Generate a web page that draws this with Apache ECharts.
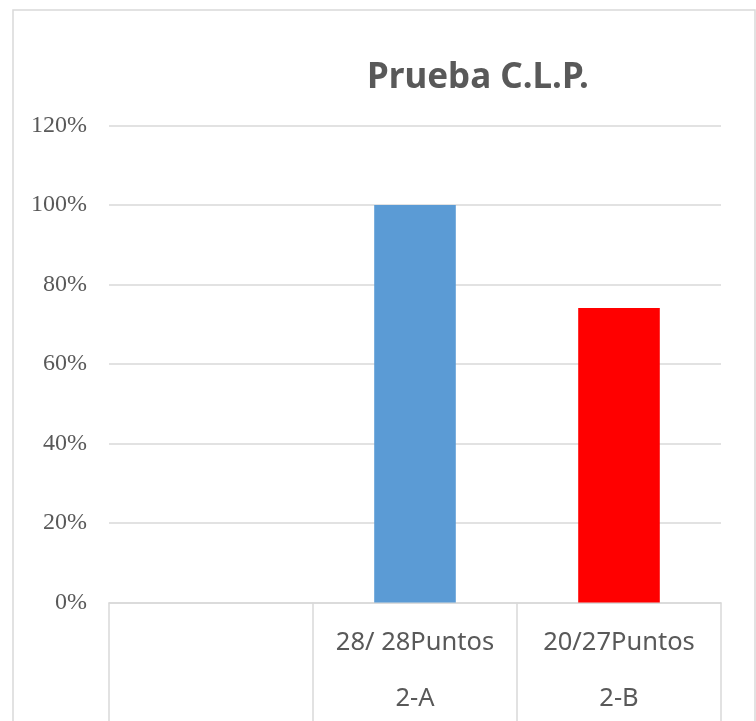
<!DOCTYPE html>
<html>
<head>
<meta charset="utf-8">
<script src="https://cdn.jsdelivr.net/npm/echarts@6/dist/echarts.min.js"></script>
<style>
html,body{margin:0;padding:0;background:#fff;}
#chart{width:756px;height:721px;}
</style>
</head>
<body>
<div id="chart"></div>
<script>
const titleText = 'Prueba C.L.P.';
const categoriesTop = ['', '28/ 28Puntos', '20/27Puntos'];
const categoriesGroup = ['', '2-A', '2-B'];
const values = [null, 1.0, 0.7407];
const barColors = ['#5B9BD5', '#5B9BD5', '#FF0000'];
const yTicks = [0, 0.2, 0.4, 0.6, 0.8, 1.0, 1.2];

const chart = echarts.init(document.getElementById('chart'), null, {renderer: 'canvas'});
const option = {
  backgroundColor: '#fff',
  animation: false,
  title: {
    text: titleText,
    left: 362,
    top: 56,
    textStyle: {
      fontFamily: 'Noto Sans',
      fontWeight: 'bold',
      fontSize: 35,
      color: '#595959'
    }
  },
  graphic: [{
    type: 'rect',
    shape: {x: 13, y: 10, width: 742, height: 730},
    style: {fill: 'none', stroke: '#D9D9D9', lineWidth: 1.5},
    silent: true,
    z: -1
  }],
  grid: {left: 109, right: 35, top: 125.5, bottom: 118.5, containLabel: false},
  xAxis: [{
    type: 'category',
    data: categoriesTop,
    position: 'bottom',
    axisLine: {show: true, lineStyle: {color: '#D9D9D9', width: 1.5}},
    axisTick: {show: true, length: 130, lineStyle: {color: '#D9D9D9', width: 1.5}},
    axisLabel: {
      margin: 27,
      fontFamily: 'Noto Sans',
      fontSize: 25.5,
      color: '#595959',
      interval: 0
    },
    splitLine: {show: false}
  }, {
    type: 'category',
    data: categoriesGroup,
    position: 'bottom',
    offset: 56,
    axisLine: {show: false},
    axisTick: {show: false},
    axisLabel: {
      margin: 27,
      fontFamily: 'Noto Sans',
      fontSize: 25.5,
      color: '#595959',
      interval: 0
    },
    splitLine: {show: false}
  }],
  yAxis: {
    type: 'value',
    min: yTicks[0],
    max: yTicks[yTicks.length - 1],
    interval: 0.2,
    axisLine: {show: false},
    axisTick: {show: false},
    axisLabel: {
      margin: 22,
      fontFamily: 'Liberation Serif',
      fontSize: 24,
      color: '#595959',
      formatter: v => Math.round(v * 100) + '%'
    },
    splitLine: {lineStyle: {color: '#D9D9D9', width: 1.5}}
  },
  series: [{
    type: 'bar',
    xAxisIndex: 0,
    barWidth: '40%',
    data: values.map((v, i) => ({value: v, itemStyle: {color: barColors[i]}}))
  }]
};
chart.setOption(option);
</script>
</body>
</html>
